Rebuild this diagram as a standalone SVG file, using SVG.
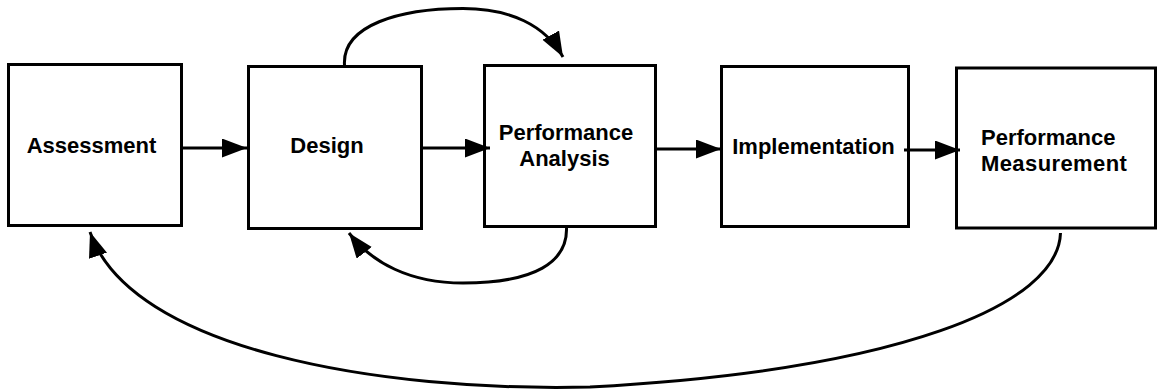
<svg xmlns="http://www.w3.org/2000/svg" width="1157" height="391" viewBox="0 0 1157 391">
<style>
.box{fill:#fff;stroke:#000;stroke-width:3}
.lbl{font-family:"Liberation Sans",Arial,sans-serif;font-weight:bold;font-size:22px;fill:#000}
.c{text-anchor:middle}
.con{fill:none;stroke:#000;stroke-width:3}
</style>
<defs>
<marker id="ah" markerUnits="userSpaceOnUse" markerWidth="26" markerHeight="20" refX="25" refY="9.5" orient="auto">
<path d="M0,0 L25,9.5 L0,19 z" fill="#000"/>
</marker>
</defs>
<g id="assessment"><rect class="box" x="8.5" y="64.5" width="173" height="161"/><text class="lbl c" x="91.5" y="153">Assessment</text></g>
<g id="design"><rect class="box" x="248.5" y="66.5" width="173" height="162"/><text class="lbl c" x="327" y="153">Design</text></g>
<g id="performance-analysis"><rect class="box" x="484.5" y="65.5" width="171" height="161"/><text class="lbl c" x="566" y="139.5">Performance</text><text class="lbl c" x="564.5" y="166">Analysis</text></g>
<g id="implementation"><rect class="box" x="721.5" y="66.5" width="187" height="160"/><text class="lbl c" x="813.5" y="154">Implementation</text></g>
<g id="performance-measurement"><rect class="box" x="956.5" y="68" width="199" height="160"/><text class="lbl" x="981" y="145">Performance</text><text class="lbl" x="981" y="171" letter-spacing="0.4">Measurement</text></g>
<g id="connectors">
<line class="con" x1="182" y1="148" x2="247" y2="148" marker-end="url(#ah)"/>
<line class="con" x1="421" y1="148" x2="490" y2="148" marker-end="url(#ah)"/>
<line class="con" x1="656" y1="149" x2="721" y2="149" marker-end="url(#ah)"/>
<line class="con" x1="904" y1="150" x2="960" y2="150" marker-end="url(#ah)"/>
<path class="con" d="M344.5,65 C342,25 400,8.5 463,8.5 C510,8.5 545,25 563,57" marker-end="url(#ah)"/>
<path class="con" d="M566.5,227 C568,262 535,283 463,283 C410,283 372,263 349,233" marker-end="url(#ah)"/>
<path class="con" d="M1060.5,233 C1058,305 900,370 590,387 C380,392 130,350 90,232" marker-end="url(#ah)"/>
</g>
</svg>
